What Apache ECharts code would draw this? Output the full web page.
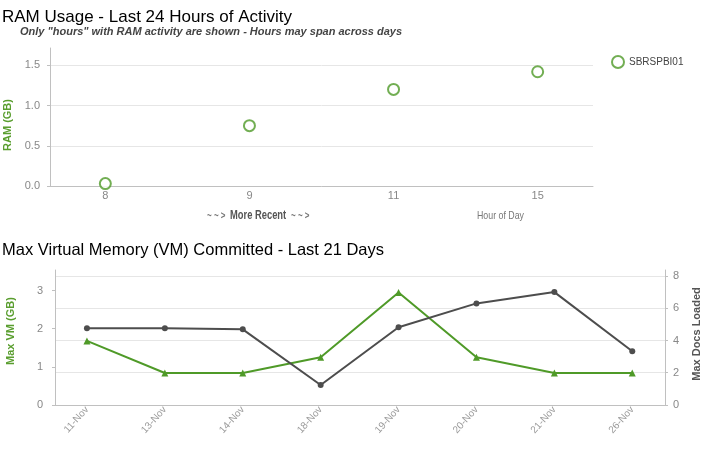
<!DOCTYPE html>
<html>
<head>
<meta charset="utf-8">
<script src="https://cdn.jsdelivr.net/npm/echarts@6/dist/echarts.min.js"></script>
<style>
html,body{margin:0;padding:0;background:#fff;}
#c{width:727px;height:453px;}
</style>
</head>
<body>
<div id="c"></div>
<script>
// ---- Data ----
var ramHours = ['8', '9', '11', '15'];
var ramValues = [0.03, 0.75, 1.2, 1.42];
var ramSeriesName = 'SBRSPBI01';
var ramYTicks = [0, 0.5, 1.0, 1.5];

var vmDates = ['11-Nov', '13-Nov', '14-Nov', '18-Nov', '19-Nov', '20-Nov', '21-Nov', '26-Nov'];
var vmValues = [1.68, 0.84, 0.84, 1.25, 2.95, 1.25, 0.84, 0.84];
var docsValues = [4.76, 4.76, 4.69, 1.24, 4.82, 6.3, 7.0, 3.33];
var vmYTicks = [0, 1, 2, 3];
var docsYTicks = [0, 2, 4, 6, 8];

var GREEN = '#4f9a28';
var DARK = '#4d4d4d';
var FONT = '"Liberation Sans", Arial, sans-serif';

function idx(arr) { return arr.map(function (_, i) { return i; }); }

var chart = echarts.init(document.getElementById('c'), null, {renderer: 'canvas'});
var option = {
  backgroundColor: '#ffffff',
  animation: false,
  textStyle: {fontFamily: FONT},
  title: [
    {text: 'RAM Usage - Last 24 Hours of Activity', left: 2, top: 9, padding: 0,
     textStyle: {fontSize: 17, fontWeight: 'normal', color: '#000', fontFamily: FONT}},
    {text: 'Only "hours" with RAM activity are shown - Hours may span across days', left: 20, top: 26, padding: 0,
     textStyle: {fontSize: 11, fontWeight: 'bold', fontStyle: 'italic', color: '#444', fontFamily: FONT}},
    {text: 'Max Virtual Memory (VM) Committed - Last 21 Days', left: 2, top: 242, padding: 0,
     textStyle: {fontSize: 16.5, fontWeight: 'normal', color: '#000', fontFamily: FONT}}
  ],
  graphic: [
    {type: 'text', x: 207, y: 216, scaleX: 0.8, silent: true,
     style: {text: '~ ~ >', font: 'bold 10px ' + FONT, fill: '#777', verticalAlign: 'middle'}},
    {type: 'text', x: 230, y: 216, scaleX: 0.78, silent: true,
     style: {text: 'More Recent', font: 'bold 12px ' + FONT, fill: '#555', verticalAlign: 'middle'}},
    {type: 'text', x: 291, y: 216, scaleX: 0.8, silent: true,
     style: {text: '~ ~ >', font: 'bold 10px ' + FONT, fill: '#777', verticalAlign: 'middle'}},
    {type: 'text', x: 477, y: 216, scaleX: 0.8, silent: true,
     style: {text: 'Hour of Day', font: '11px ' + FONT, fill: '#777', verticalAlign: 'middle'}}
  ],
  legend: {
    data: [ramSeriesName], left: 606, top: 50, orient: 'vertical',
    itemWidth: 12, itemHeight: 12, itemGap: 6,
    textStyle: {fontSize: 10, color: '#444', fontFamily: FONT}
  },
  grid: [
    {left: 50, right: 134, top: 48, bottom: 267, containLabel: false, outerBoundsMode: 'none'},
    {left: 55, right: 62, top: 270, bottom: 48, containLabel: false, outerBoundsMode: 'none'}
  ],
  xAxis: [
    {type: 'value', gridIndex: 0, min: -0.384, max: 3.384,
     axisLine: {show: true, onZero: false, lineStyle: {color: '#c0c0c0', width: 1}},
     axisTick: {show: false, customValues: idx(ramHours)},
     splitLine: {show: false},
     axisLabel: {customValues: idx(ramHours), color: '#888', fontSize: 11, margin: 4,
                 formatter: function (v) { return ramHours[Math.round(v)]; }}},
    {type: 'value', gridIndex: 1, min: -0.41, max: 7.42,
     axisLine: {show: true, onZero: false, lineStyle: {color: '#c0c0c0', width: 1}},
     axisTick: {show: false, customValues: idx(vmDates)},
     splitLine: {show: false},
     axisLabel: {customValues: idx(vmDates), color: '#999', fontSize: 10, rotate: 48, margin: 3,
                 formatter: function (v) { return vmDates[Math.round(v)]; }}}
  ],
  yAxis: [
    {type: 'value', gridIndex: 0, min: 0, max: 1.715,
     name: 'RAM (GB)', nameLocation: 'middle', nameGap: 35, nameRotate: 90,
     nameTextStyle: {color: '#5a9e2f', fontWeight: 'bold', fontSize: 11, fontFamily: FONT, padding: [0, 16, 0, 0]},
     axisLine: {show: true, onZero: false, lineStyle: {color: '#c0c0c0'}},
     axisTick: {show: true, length: 3, customValues: ramYTicks, lineStyle: {color: '#c0c0c0'}},
     splitLine: {show: true, lineStyle: {color: '#e6e6e6'}},
     axisLabel: {customValues: ramYTicks, color: '#888', fontSize: 11, margin: 10,
                 formatter: function (v) { return v.toFixed(1); }}},
    {type: 'value', gridIndex: 1, min: 0, max: 3.54, position: 'left',
     name: 'Max VM (GB)', nameLocation: 'middle', nameGap: 39, nameRotate: 90,
     nameTextStyle: {color: '#5a9e2f', fontWeight: 'bold', fontSize: 11, fontFamily: FONT, padding: [0, 0, 0, 13]},
     axisLine: {show: true, onZero: false, lineStyle: {color: '#c0c0c0'}},
     axisTick: {show: true, length: 3, customValues: vmYTicks, lineStyle: {color: '#c0c0c0'}},
     splitLine: {show: false},
     axisLabel: {customValues: vmYTicks, color: '#888', fontSize: 11, margin: 12}},
    {type: 'value', gridIndex: 1, min: 0, max: 8.37, position: 'right',
     name: 'Max Docs Loaded', nameLocation: 'middle', nameGap: 26, nameRotate: 90,
     nameTextStyle: {color: '#555', fontWeight: 'bold', fontSize: 11, fontFamily: FONT, padding: [0, 0, 0, 7]},
     axisLine: {show: true, onZero: false, lineStyle: {color: '#c0c0c0'}},
     axisTick: {show: true, length: 3, customValues: docsYTicks, lineStyle: {color: '#c0c0c0'}},
     splitLine: {show: true, lineStyle: {color: '#e6e6e6'}},
     axisLabel: {customValues: docsYTicks, color: '#888', fontSize: 11, margin: 8}}
  ],
  series: [
    {name: ramSeriesName, type: 'scatter', xAxisIndex: 0, yAxisIndex: 0,
     symbol: 'emptyCircle', symbolSize: 11,
     itemStyle: {color: GREEN, borderColor: GREEN, borderWidth: 2.5},
     data: ramValues.map(function (v, i) { return [i, v]; })},
    {name: 'Max VM', type: 'line', xAxisIndex: 1, yAxisIndex: 1,
     symbol: 'triangle', symbolSize: 7, showSymbol: true,
     lineStyle: {color: GREEN, width: 2}, itemStyle: {color: GREEN},
     data: vmValues.map(function (v, i) { return [i, v]; })},
    {name: 'Max Docs Loaded', type: 'line', xAxisIndex: 1, yAxisIndex: 2,
     symbol: 'circle', symbolSize: 6, showSymbol: true,
     lineStyle: {color: DARK, width: 2}, itemStyle: {color: DARK},
     data: docsValues.map(function (v, i) { return [i, v]; })}
  ]
};
chart.setOption(option);
</script>
</body>
</html>
